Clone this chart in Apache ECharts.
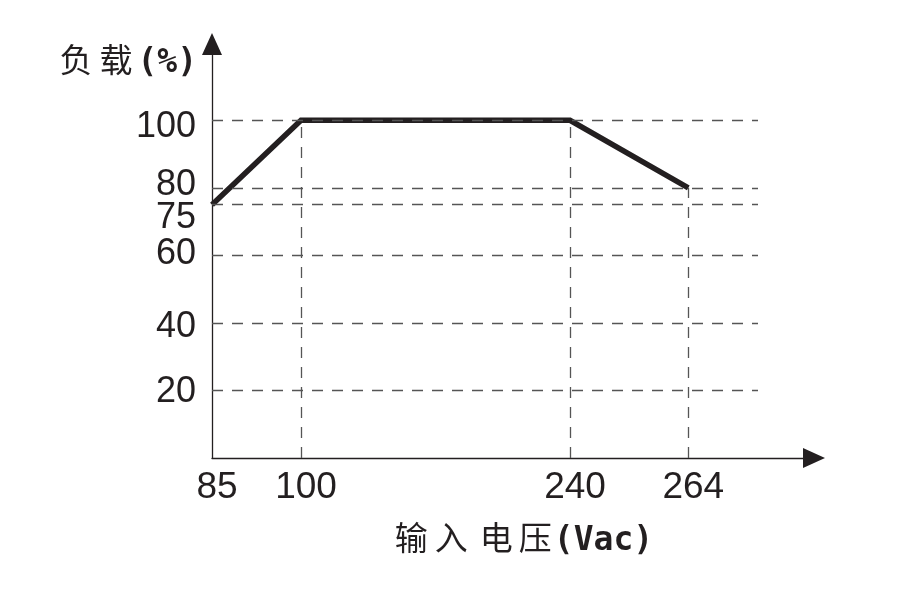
<!DOCTYPE html>
<html>
<head>
<meta charset="utf-8">
<script src="https://cdn.jsdelivr.net/npm/echarts@6/dist/echarts.min.js"></script>
<style>html,body{margin:0;padding:0;background:#fff}#c{width:921px;height:595px}</style>
</head>
<body>
<div id="c"></div>
<script>
// ---- data ----
const voltageLabels = ['85', '100', '240', '264'];
const voltages = [85, 100, 240, 264];
const loads = [75, 100, 100, 80];
const yTickValues = [20, 40, 60, 75, 80, 100];

// ---- layout (schematic, non-linear voltage axis) ----
const xDisplayPos = [0, 89, 358, 476.3];
const xAxisMax = 602;
const gridLineEnd = 546;
const yLabelShift = {100: 7, 80: -3, 75: 13, 60: -1, 40: 4, 20: 2};
const ink = '#231f20';
const dashColor = '#555555';

function toDisplay(v) {
  for (let i = 0; i < voltages.length - 1; i++) {
    if (v <= voltages[i + 1]) {
      const t = (v - voltages[i]) / (voltages[i + 1] - voltages[i]);
      return xDisplayPos[i] + t * (xDisplayPos[i + 1] - xDisplayPos[i]);
    }
  }
  return xDisplayPos[xDisplayPos.length - 1];
}

const lineData = voltages.map((v, i) => [toDisplay(v), loads[i]]);

const markData = [];
yTickValues.forEach(v => markData.push([{coord: [0, v]}, {coord: [gridLineEnd, v]}]));
lineData.slice(1).forEach(p => markData.push([{coord: [p[0], 0]}, {coord: [p[0], p[1]]}]));

const yRich = {};
yTickValues.forEach(v => {
  const s = yLabelShift[v] || 0;
  yRich['l' + v] = {
    fontFamily: 'Liberation Sans', fontSize: 36, color: ink,
    padding: [Math.max(0, 2 * s), 0, Math.max(0, -2 * s), 0]
  };
});

const cjk = {fontFamily: 'Noto Sans CJK SC', fontSize: 33, color: ink, align: 'left'};
const mono = {fontFamily: 'DejaVu Sans Mono', fontWeight: 'bold', fontSize: 33, color: ink, padding: [9, 0, 0, 0]};

const chart = echarts.init(document.getElementById('c'), null, {renderer: 'canvas'});
chart.setOption({
  animation: false,
  backgroundColor: '#fff',
  grid: {left: 212, right: 107, top: 44, bottom: 137, containLabel: false},
  xAxis: {
    type: 'value', min: 0, max: xAxisMax,
    axisLine: {show: true, lineStyle: {color: ink, width: 1.3},
      symbol: ['none', 'triangle'], symbolSize: [20, 22]},
    axisTick: {show: false},
    splitLine: {show: false},
    axisLabel: {
      customValues: xDisplayPos,
      formatter: v => {
        const i = xDisplayPos.indexOf(v);
        return i >= 0 ? voltageLabels[i] : '';
      },
      fontFamily: 'Liberation Sans', fontSize: 37, color: ink,
      margin: 11, padding: [0, 0, 0, 10]
    },
    name: '{c1|输}{c2|入}{c3|电}{c4|压}{b|(Vac)}',
    nameLocation: 'middle',
    nameGap: 79,
    nameTextStyle: {
      verticalAlign: 'middle',
      padding: [0, 0, 0, 22],
      rich: {
        c1: Object.assign({width: 40}, cjk),
        c2: Object.assign({width: 45}, cjk),
        c3: Object.assign({width: 39}, cjk),
        c4: Object.assign({width: 35}, cjk),
        b: mono
      }
    }
  },
  yAxis: {
    type: 'value', min: 0, max: 122.6,
    axisLine: {show: true, lineStyle: {color: ink, width: 1.3},
      symbol: ['none', 'triangle'], symbolSize: [20, 22]},
    axisTick: {show: false},
    splitLine: {show: false},
    axisLabel: {
      customValues: yTickValues,
      formatter: v => '{l' + v + '|' + v + '}',
      rich: yRich,
      fontFamily: 'Liberation Sans', fontSize: 36, color: ink,
      margin: 16
    },
    name: '{c1|负}{c2|载}{b|(%)}',
    nameLocation: 'end',
    nameGap: -15,
    nameTextStyle: {
      align: 'right',
      verticalAlign: 'middle',
      padding: [0, 15, 0, 0],
      rich: {
        c1: Object.assign({width: 40}, cjk),
        c2: Object.assign({width: 38}, cjk),
        b: mono
      }
    }
  },
  series: [
    {
      type: 'line', data: [], z: 1, silent: true,
      markLine: {
        silent: true, symbol: 'none', animation: false,
        label: {show: false},
        emphasis: {disabled: true},
        lineStyle: {color: dashColor, width: 1.3, type: [11, 9]},
        data: markData
      }
    },
    {
      type: 'line', data: lineData, z: 3, silent: true,
      showSymbol: false, symbol: 'none',
      lineStyle: {color: ink, width: 5.5, cap: 'butt', join: 'miter'}
    }
  ]
});
</script>
</body>
</html>
